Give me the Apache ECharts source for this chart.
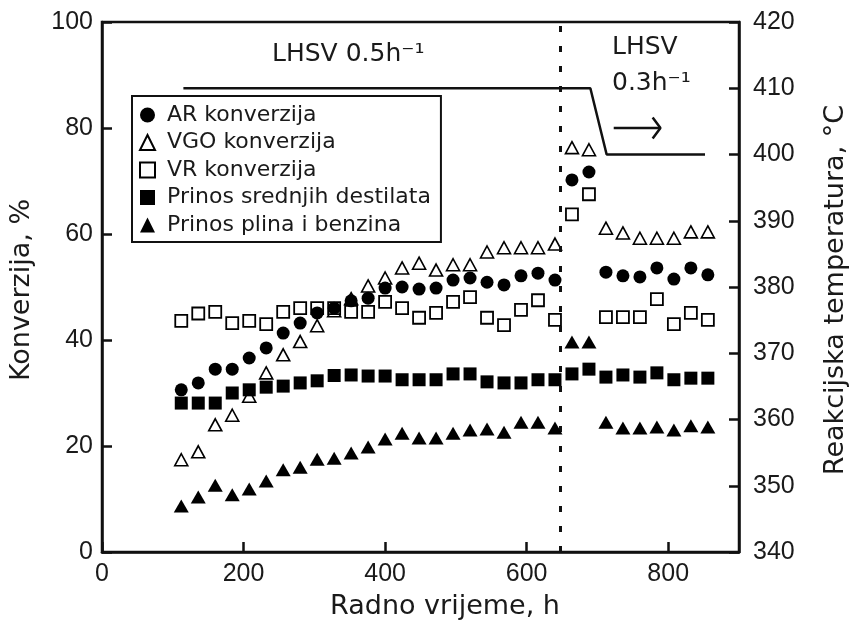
<!DOCTYPE html>
<html><head><meta charset="utf-8">
<script src="https://cdn.jsdelivr.net/npm/echarts@6/dist/echarts.min.js"></script>
<style>html,body{margin:0;padding:0;background:#fff}#c{width:857px;height:632px}</style>
</head><body><div id="c"></div>
<script>
// Working time (h)
const hours = [112,136,160,184,208,232,256,280,304,328,352,376,400,424,448,472,496,520,544,568,592,616,640,664,688,712,736,760,784,808,832,856];
// Conversions / yields (%)
const arKonverzija = [30.6,31.9,34.5,34.5,36.6,38.5,41.3,43.2,45.1,46.0,47.4,47.9,49.8,50.0,49.6,49.8,51.3,51.7,50.9,50.4,52.1,52.6,51.3,70.2,71.7,52.8,52.1,51.9,53.6,51.5,53.6,52.3];
const vgoKonverzija = [17.4,18.9,24.0,25.8,29.4,33.8,37.2,39.7,42.7,45.5,47.8,50.2,51.7,53.6,54.5,53.2,54.2,54.2,56.6,57.4,57.4,57.4,58.1,76.3,75.9,61.1,60.2,59.2,59.2,59.2,60.4,60.4];
const vrKonverzija = [43.6,45.0,45.3,43.2,43.6,43.0,45.3,46.0,46.0,46.0,45.3,45.3,47.2,46.0,44.2,45.1,47.2,48.1,44.2,42.8,45.7,47.5,43.8,63.7,67.5,44.3,44.3,44.3,47.7,43.0,45.1,43.8];
const prinosSrednjih = [28.1,28.1,28.1,30.0,30.6,31.1,31.3,31.9,32.3,33.3,33.4,33.2,33.2,32.5,32.5,32.5,33.6,33.6,32.1,31.9,31.9,32.5,32.5,33.6,34.5,33.0,33.4,33.0,33.8,32.5,32.8,32.8];
const prinosPlina = [8.7,10.4,12.6,10.8,11.9,13.4,15.5,16.0,17.5,17.7,18.7,19.8,21.3,22.4,21.5,21.5,22.4,23.0,23.2,22.6,24.5,24.5,23.4,39.6,39.6,24.5,23.4,23.4,23.6,23.0,23.8,23.6];
// Reaction temperature profile (°C)
const tempHours = [115,690,713,852];
const tempValues = [410,410,400,400];
// LHSV change time (h)
const lhsvChange = 648;
// arrow annotation (h, °C)
const arrowHours = [723,789];
const arrowTemp = 404;
// axis ticks
const xTicks = {min:0, max:900, interval:200};
const yLeftTicks = {min:0, max:100, interval:20};
const yRightTicks = {min:340, max:420, interval:10};

const seriesNames = ['AR konverzija','VGO konverzija','VR konverzija','Prinos srednjih destilata','Prinos plina i benzina'];

const pair = v => hours.map((h,i)=>[h,v[i]]);
const TXT = '"DejaVu Sans", sans-serif';
const NUM = '"Liberation Sans", Arial, sans-serif';
const axisCommon = {
  axisLine:{show:true,lineStyle:{color:'#111',width:2.5}},
  axisTick:{show:true,inside:true,length:10,lineStyle:{color:'#111',width:2.5}},
  splitLine:{show:false},
  axisLabel:{color:'#1a1a1a',fontSize:25,fontFamily:NUM}
};

const chart = echarts.init(document.getElementById('c'), null, {renderer:'canvas'});
chart.setOption({
  animation:false,
  backgroundColor:'#fff',
  grid:{left:102,right:118,top:22,bottom:80,containLabel:false,outerBoundsMode:'none',show:true,borderColor:'#111',borderWidth:2.5,backgroundColor:'transparent'},
  xAxis:[Object.assign({type:'value',min:xTicks.min,max:xTicks.max,interval:xTicks.interval},axisCommon,{axisLabel:Object.assign({},axisCommon.axisLabel,{margin:10,showMaxLabel:false})})],
  yAxis:[
    Object.assign({type:'value',position:'left',min:yLeftTicks.min,max:yLeftTicks.max,interval:yLeftTicks.interval},axisCommon,{axisLabel:Object.assign({},axisCommon.axisLabel,{margin:9})}),
    Object.assign({type:'value',position:'right',min:yRightTicks.min,max:yRightTicks.max,interval:yRightTicks.interval},axisCommon,{axisLabel:Object.assign({},axisCommon.axisLabel,{margin:14})})
  ],
  legend:{
    orient:'vertical',left:132,top:96,
    padding:[8,10,6,7],itemGap:5.5,itemWidth:15,itemHeight:15,symbolKeepAspect:true,
    borderColor:'#111',borderWidth:2,borderRadius:0,backgroundColor:'#fff',
    textStyle:{fontSize:22,fontFamily:TXT,color:'#1a1a1a',lineHeight:22,padding:[0,0,0,7]},
    data:seriesNames
  },
  series:[
    {name:seriesNames[0],type:'scatter',data:pair(arKonverzija),symbol:'circle',symbolSize:13,itemStyle:{color:'#000',opacity:1},z:5,
     markLine:{silent:true,symbol:'none',label:{show:false},lineStyle:{color:'#111',width:3,type:[6,14]},data:[{xAxis:lhsvChange}]}},
    {name:seriesNames[1],type:'scatter',data:pair(vgoKonverzija),symbol:'triangle',symbolSize:[13,12],itemStyle:{color:'#fff',borderColor:'#000',borderWidth:1.6,opacity:1},z:4},
    {name:seriesNames[2],type:'scatter',data:pair(vrKonverzija),symbol:'rect',symbolSize:12,itemStyle:{color:'#fff',borderColor:'#000',borderWidth:1.8,opacity:1},z:4},
    {name:seriesNames[3],type:'scatter',data:pair(prinosSrednjih),symbol:'rect',symbolSize:13,itemStyle:{color:'#000',opacity:1},z:5},
    {name:seriesNames[4],type:'scatter',data:pair(prinosPlina),symbol:'triangle',symbolSize:[15,13],itemStyle:{color:'#000',opacity:1},z:5},
    {name:'temp',type:'line',yAxisIndex:1,data:tempHours.map((h,i)=>[h,tempValues[i]]),symbol:'none',lineStyle:{color:'#111',width:2.5},z:3},
    {name:'arrow',type:'line',yAxisIndex:1,data:[[arrowHours[0],arrowTemp],[arrowHours[1],arrowTemp]],symbol:'none',lineStyle:{color:'#111',width:2.5},z:3},
    {name:'arrowhead',type:'line',yAxisIndex:1,data:[[arrowHours[1]-11,arrowTemp+1.6],[arrowHours[1],arrowTemp],[arrowHours[1]-11,arrowTemp-1.6]],symbol:'none',lineStyle:{color:'#111',width:2.5},z:3}
  ],
  graphic:[
    {type:'text',x:22,y:290,rotation:Math.PI/2,style:{text:'Konverzija, %',font:'27px '+TXT,fill:'#1a1a1a',align:'center',verticalAlign:'middle'}},
    {type:'text',x:836,y:290,rotation:Math.PI/2,style:{text:'Reakcijska temperatura, °C',font:'27px '+TXT,fill:'#1a1a1a',align:'center',verticalAlign:'middle'}},
    {type:'text',x:445,y:607,style:{text:'Radno vrijeme, h',font:'27px '+TXT,fill:'#1a1a1a',align:'center',verticalAlign:'middle'}},
    {type:'text',x:272,y:54,style:{text:'LHSV 0.5h⁻¹',font:'25px '+TXT,fill:'#1a1a1a',align:'left',verticalAlign:'middle'}},
    {type:'text',x:612,y:47,style:{text:'LHSV',font:'25px '+TXT,fill:'#1a1a1a',align:'left',verticalAlign:'middle'}},
    {type:'text',x:612,y:83,style:{text:'0.3h⁻¹',font:'25px '+TXT,fill:'#1a1a1a',align:'left',verticalAlign:'middle'}}
  ]
});
</script>
</body></html>
